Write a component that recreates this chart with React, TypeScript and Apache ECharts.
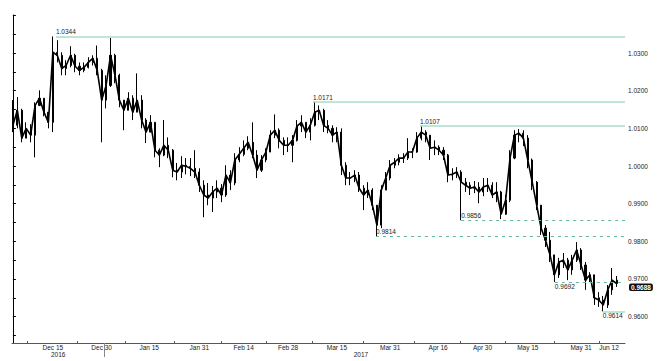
import React, { useEffect, useRef } from "react";
import * as echarts from "echarts";

// Daily bars, trading-day index 0 = Dec 2 2016 ... 136 = Jun 12 2017
const firstOpen = 1.012;
const closes = [
  1.0108, 1.0148, 1.0074, 1.01, 1.0082, 1.0161, 1.018, 1.0143, 1.0116, 1.0302,
  1.0294, 1.0259, 1.0267, 1.0294, 1.0265, 1.0254, 1.0262, 1.0275, 1.0286, 1.0254,
  1.0175, 1.0214, 1.0294, 1.0241, 1.0175, 1.0148, 1.018, 1.0143, 1.0175, 1.0122,
  1.009, 1.0116, 1.0042, 1.0029, 1.0055, 1.0042, 0.9989, 0.9984, 1.0002, 0.9999,
  0.9994, 0.9984, 0.9949, 0.9923, 0.9915, 0.9931, 0.9941, 0.9923, 0.9976, 0.9955,
  1.0016, 1.0031, 1.0047, 1.0063, 1.0029, 0.9989, 1.0016, 1.0037, 1.0082, 1.0095,
  1.0068, 1.0055, 1.0055, 1.0068, 1.0106, 1.0116, 1.009, 1.0108, 1.0143, 1.0148,
  1.0108, 1.01, 1.0082, 1.009, 1.0002, 0.9968, 0.9968, 0.9976, 0.9941, 0.9923,
  0.9936, 0.9896, 0.9843, 0.9936, 0.9968, 1.0002, 1.001, 1.0021, 1.0021, 1.0037,
  1.0037, 1.0074, 1.009, 1.0082, 1.0047, 1.005, 1.0042, 1.0029, 0.9976, 0.9978,
  0.9984, 0.9957, 0.9949, 0.9941, 0.9944, 0.9931, 0.9944, 0.9949, 0.9923, 0.9931,
  0.9872, 0.9909, 1.0021, 1.0082, 1.0087, 1.0074, 1.0016, 0.9957, 0.9896, 0.9835,
  0.9803, 0.9764, 0.9711, 0.9745, 0.975, 0.9724, 0.975, 0.9777, 0.9737, 0.9697,
  0.9711, 0.965, 0.9644, 0.9631, 0.9671, 0.9697, 0.9688,
];
const highs = [
  1.0175, 1.0183, 1.0152, 1.0116, 1.0111, 1.0169, 1.0201, 1.018, 1.0143, 1.0344,
  1.0334, 1.0302, 1.0281, 1.0318, 1.0298, 1.0275, 1.0275, 1.0289, 1.0294, 1.032,
  1.0258, 1.0241, 1.034, 1.0298, 1.0245, 1.0175, 1.0196, 1.0188, 1.0246, 1.0188,
  1.0127, 1.0135, 1.0116, 1.0047, 1.0122, 1.0076, 1.0045, 1.0008, 1.0026, 1.0021,
  1.0021, 1.0042, 0.9994, 0.9962, 0.9955, 0.9947, 0.9962, 0.9952, 1.0002, 0.9989,
  1.0034, 1.005, 1.0068, 1.0079, 1.0116, 1.0042, 1.0029, 1.0047, 1.0095, 1.0137,
  1.01, 1.0076, 1.0076, 1.0082, 1.0122, 1.0135, 1.0116, 1.0127, 1.0171, 1.0161,
  1.0152, 1.0122, 1.0108, 1.0103, 1.01, 1.001, 0.9984, 0.9989, 0.9984, 0.9949,
  0.9957, 0.9941, 0.9896, 0.9949, 0.9984, 1.0016, 1.0021, 1.0031, 1.0034, 1.0074,
  1.0047, 1.009, 1.0107, 1.0095, 1.0082, 1.0068, 1.0055, 1.005, 1.0032, 0.9994,
  0.9997, 0.9989, 0.9968, 0.9957, 0.996, 0.9957, 0.9968, 0.9968, 0.9957, 0.9957,
  0.9934, 0.9923, 1.0042, 1.0095, 1.0098, 1.0095, 1.0082, 1.002, 0.996, 0.9896,
  0.9843, 0.9825, 0.9764, 0.9756, 0.9769, 0.9756, 0.9764, 0.9798, 0.9782, 0.9745,
  0.9718, 0.9711, 0.9665, 0.9655, 0.9684, 0.9729, 0.9708,
];
const lows = [
  1.009, 1.01, 1.0063, 1.0074, 1.0063, 1.0023, 1.0159, 1.0132, 1.01, 1.009,
  1.0275, 1.0241, 1.0241, 1.0262, 1.0249, 1.0241, 1.0249, 1.0259, 1.0267, 1.0241,
  1.0063, 1.0153, 1.021, 1.022, 1.0156, 1.0095, 1.0148, 1.0122, 1.0143, 1.01,
  1.0061, 1.009, 1.0023, 0.9997, 1.0026, 1.0021, 0.997, 0.9962, 0.9968, 0.9978,
  0.9973, 0.9968, 0.9931, 0.9864, 0.9896, 0.9878, 0.9915, 0.9904, 0.9918, 0.9936,
  0.9949, 1.001, 1.0026, 1.0042, 1.0021, 0.9968, 0.9984, 1.001, 1.0037, 1.0074,
  1.0047, 1.0029, 1.0037, 1.001, 1.0065, 1.009, 1.0074, 1.0068, 1.0105, 1.0122,
  1.009, 1.0087, 1.0063, 1.0063, 0.9976, 0.9949, 0.9949, 0.9957, 0.9931, 0.9883,
  0.9915, 0.9883, 0.9814, 0.9835, 0.9936, 0.9962, 0.9994, 1.0002, 1.0008, 1.0016,
  1.0021, 1.0035, 1.0068, 1.0063, 1.0016, 1.0029, 1.0029, 1.0016, 0.9957, 0.9962,
  0.9968, 0.9856, 0.9931, 0.9923, 0.9928, 0.9901, 0.992, 0.9931, 0.9915, 0.9904,
  0.9859, 0.987, 0.9904, 1.0018, 1.0063, 1.0053, 0.9994, 0.9936, 0.9883, 0.9817,
  0.9785, 0.9745, 0.9692, 0.9703, 0.9729, 0.9697, 0.9711, 0.9745, 0.9724, 0.9671,
  0.9692, 0.9631, 0.9626, 0.9614, 0.9623, 0.9658, 0.9679,
];

const xLabels = ["Dec 15", "Dec 30", "Jan 15", "Jan 31", "Feb 14", "Feb 28", "Mar 15", "Mar 31", "Apr 16", "Apr 30", "May 15", "May 31", "Jun 12"];
const xLabelAt = [9, 20, 30.7, 42, 52, 62, 73, 85, 95.8, 105.8, 116, 128, 134.3];
const yearLabels = ["2016", "2017"];
const yearLabelAt = [10.2, 78.4];
const yearBreakAt = 20.55;
const yLabelValues = [0.96, 0.97, 0.98, 0.99, 1.0, 1.01, 1.02, 1.03];

const levelValues = [1.0344, 1.0171, 1.0107, 0.9856, 0.9814, 0.9692, 0.9614];
const levelFrom = [9.7, 67.6, 91.7, 101, 81.8, 122.1, 132.9];
const levelDashed = [false, false, false, true, true, true, false];
const levelBelow = [false, false, false, false, false, true, true];
const lastPrice = 0.9688;

const X_MIN = -0.2;
const X_MAX = 137.9;
const Y_MIN = 0.953;
const Y_MAX = 1.0401;

export default function App() {
  const ref = useRef<HTMLDivElement>(null);
  useEffect(() => {
    document.body.style.margin = "0";
    if (!ref.current) return;
    const chart = echarts.init(ref.current, undefined, { renderer: "svg" });

    const opens = [firstOpen, ...closes.slice(0, -1)];
    const candles = closes.map((c, i) => [i, opens[i], c, lows[i], highs[i]]);
    const closeLine = closes.map((c, i) => [i, c]);

    const yTicks: number[] = [];
    for (let k = 0; k <= 17; k++) yTicks.push(+(0.955 + k * 0.005).toFixed(3));

    const xTicks: number[] = [3.2];
    for (let k = 0; k < xLabelAt.length - 1; k++) {
      const a = k === xLabelAt.length - 2 ? 136 : xLabelAt[k + 1];
      xTicks.push((xLabelAt[k] + a) / 2);
    }

    const font = "Liberation Sans";
    const txt = "#1a1a1a";

    const markData: any[] = levelValues.map((v, k) => {
      const dashed = levelDashed[k];
      return [
        {
          coord: [levelFrom[k], v],
          lineStyle: {
            color: dashed ? "#62b89c" : "#a9dcc8",
            width: dashed ? 1 : 1.5,
            type: dashed ? [3, 4] : "solid",
          },
          label: {
            show: true,
            formatter: v.toFixed(4),
            position: levelBelow[k] ? "insideStartBottom" : "insideStartTop",
            distance: [0, 1],
            color: txt,
            fontSize: 6.5,
            fontFamily: font,
          },
        },
        { coord: [X_MAX, v] },
      ];
    });

    chart.setOption({
      animation: false,
      backgroundColor: "#fff",
      grid: { left: 12, right: 32, top: 15, bottom: 18, containLabel: false, outerBoundsMode: "none" },
      xAxis: [
        {
          type: "value",
          min: X_MIN,
          max: X_MAX,
          position: "bottom",
          splitLine: { show: false },
          axisLine: { show: true, lineStyle: { color: "#555", width: 1 } },
          axisTick: { show: true, customValues: xTicks, inside: true, length: 2, lineStyle: { color: "#555" } },
          axisLabel: {
            customValues: xLabelAt,
            formatter: (val: number) => {
              let best = 0;
              xLabelAt.forEach((p, k) => {
                if (Math.abs(p - val) < Math.abs(xLabelAt[best] - val)) best = k;
              });
              return xLabels[best];
            },
            margin: 1,
            fontSize: 6.5,
            color: txt,
            fontFamily: font,
            showMinLabel: true,
            showMaxLabel: true,
          },
        },
        {
          type: "value",
          min: X_MIN,
          max: X_MAX,
          position: "bottom",
          splitLine: { show: false },
          axisLine: { show: false },
          axisTick: { show: true, customValues: [yearBreakAt], length: 14, lineStyle: { color: "#888" } },
          axisLabel: {
            customValues: yearLabelAt,
            formatter: (val: number) => (Math.abs(val - yearLabelAt[0]) < 1 ? yearLabels[0] : yearLabels[1]),
            margin: 8,
            fontSize: 6.5,
            color: txt,
            fontFamily: font,
          },
        },
      ],
      yAxis: [
        {
          type: "value",
          position: "right",
          min: Y_MIN,
          max: Y_MAX,
          scale: true,
          splitLine: { show: false },
          axisLine: { show: true, lineStyle: { color: "#000", width: 1 } },
          axisTick: { show: true, customValues: yTicks, length: 3, lineStyle: { color: "#000" } },
          axisLabel: {
            customValues: yLabelValues,
            formatter: (v: number) => v.toFixed(4),
            margin: 3,
            fontSize: 6.5,
            lineHeight: 7,
            color: txt,
            fontFamily: font,
          },
        },
        {
          type: "value",
          position: "right",
          min: Y_MIN,
          max: Y_MAX,
          scale: true,
          splitLine: { show: false },
          axisLine: { show: false },
          axisTick: { show: false },
          axisLabel: {
            customValues: [lastPrice],
            formatter: (v: number) => v.toFixed(4),
            margin: 4,
            fontSize: 6.5,
            lineHeight: 7.5,
            fontWeight: "bold",
            color: "#fff",
            backgroundColor: "#111",
            borderRadius: 2,
            padding: [0, 2, 0, 2],
            verticalAlign: "top",
            fontFamily: font,
          },
        },
      ],
      series: [
        {
          type: "line",
          xAxisIndex: 0,
          yAxisIndex: 0,
          data: closeLine,
          symbol: "none",
          lineStyle: { color: "#000", width: 1.6 },
          z: 3,
        },
        {
          type: "candlestick",
          xAxisIndex: 0,
          yAxisIndex: 0,
          data: candles,
          encode: { x: 0, y: [1, 2, 3, 4] },
          barWidth: 1.6,
          z: 2,
          itemStyle: {
            color: "#000",
            color0: "#000",
            borderColor: "#000",
            borderColor0: "#000",
            borderWidth: 1,
          },
          markLine: {
            silent: true,
            symbol: ["none", "none"],
            animation: false,
            data: markData,
          },
        },
      ],
    });
    return () => chart.dispose();
  }, []);
  return <div ref={ref} style={{ width: 657, height: 361 }} />;
}
